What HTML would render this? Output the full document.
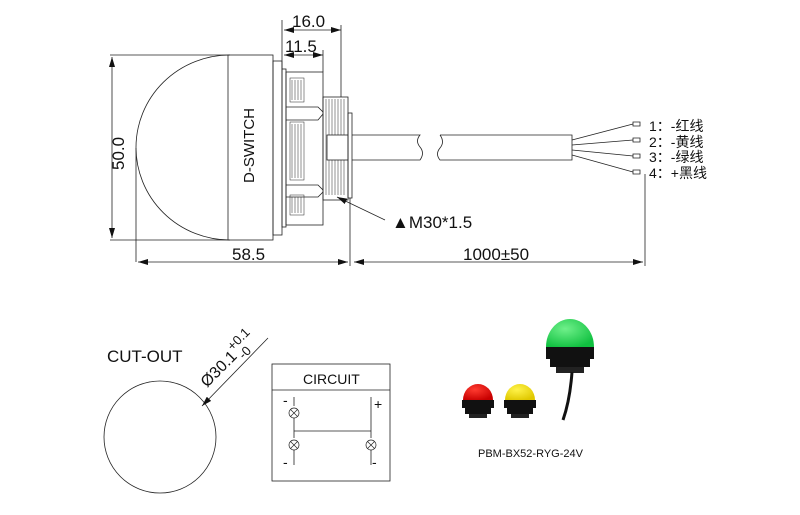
<!DOCTYPE html>
<html><head><meta charset="utf-8"><style>
html,body{margin:0;padding:0;background:#fff;}
svg{display:block;}
text{font-family:"Liberation Sans","Noto Sans CJK SC",sans-serif;fill:#111;}
</style></head><body>
<svg width="800" height="515" viewBox="0 0 800 515" xmlns="http://www.w3.org/2000/svg">
<defs>
<marker id="a" viewBox="0 0 10 6" refX="10" refY="3" markerWidth="10" markerHeight="6" orient="auto-start-reverse" markerUnits="userSpaceOnUse"><path d="M0,0L10,3L0,6z" fill="#111"/></marker>
<radialGradient id="gr" cx="0.4" cy="0.35" r="0.7"><stop offset="0" stop-color="#ff3b30"/><stop offset="1" stop-color="#c80000"/></radialGradient>
<radialGradient id="gy" cx="0.4" cy="0.35" r="0.7"><stop offset="0" stop-color="#fff34a"/><stop offset="1" stop-color="#e0c800"/></radialGradient>
<radialGradient id="gg" cx="0.4" cy="0.35" r="0.7"><stop offset="0" stop-color="#6ff08a"/><stop offset="1" stop-color="#10c040"/></radialGradient>
</defs>
<g stroke="#222" stroke-width="0.8" fill="none">
<line x1="110" y1="55" x2="230" y2="55"/>
<line x1="110" y1="240" x2="230" y2="240"/>
<line x1="112" y1="57" x2="112" y2="238" marker-start="url(#a)" marker-end="url(#a)"/>
<path d="M230,55 A94,92.5 0 0 0 230,240"/>
<line x1="136" y1="148" x2="136" y2="262"/>
<rect x="228" y="55" width="45" height="185"/>
<rect x="273" y="61" width="9" height="174"/>
<rect x="282" y="69" width="4" height="158"/>
<rect x="286" y="72" width="37" height="153"/>
<path d="M286,107 H318 L323,112 M286,120 H318 L323,114 M286,185 H318 L323,190 M286,197 H318 L323,192"/>
<g stroke-width="0.5">
<rect x="290" y="78" width="14" height="24"/><rect x="290" y="122" width="14" height="58"/><rect x="290" y="195" width="14" height="20"/>
<path d="M292,80v20M295,80v20M298,80v20M301,80v20M292,124v54M295,124v54M298,124v54M301,124v54M292,197v16M295,197v16M298,197v16M301,197v16"/>
<path d="M326,99v96M329,99v96M332,99v96M335,99v96M338,99v96M341,99v96M344,99v96"/>
</g>
<rect x="323" y="97" width="25" height="103"/>
<rect x="327" y="135" width="21" height="25" fill="#fff"/>
<rect x="348" y="113" width="4" height="85"/>
<path d="M352,135 H420 q-5,6 0,12 q5,6 0,13 H352"/>
<path d="M440,135 H572 V160 H440 q-5,-6 0,-12 q5,-6 0,-13"/>
<path d="M572,140 L633,124 M572,145 L633,140 M572,150 L633,156 M572,155 L633,172"/>
<path d="M633,122h7v4h-7zM633,138h7v4h-7zM633,154h7v4h-7zM633,170h7v4h-7z"/>
<line x1="282" y1="20" x2="282" y2="69"/>
<line x1="341" y1="25" x2="341" y2="97"/>
<line x1="323" y1="50" x2="323" y2="72"/>
<line x1="284" y1="30" x2="341" y2="30" marker-start="url(#a)" marker-end="url(#a)"/>
<line x1="284" y1="55" x2="323" y2="55" marker-start="url(#a)" marker-end="url(#a)"/>
<line x1="350" y1="198" x2="350" y2="266"/>
<line x1="645" y1="174" x2="645" y2="266"/>
<line x1="138" y1="262" x2="348" y2="262" marker-start="url(#a)" marker-end="url(#a)"/>
<line x1="354" y1="262" x2="643" y2="262" marker-start="url(#a)" marker-end="url(#a)"/>
<line x1="385" y1="220" x2="337" y2="197" marker-end="url(#a)"/>
<circle cx="160" cy="437" r="56"/>
<line x1="268" y1="338" x2="202" y2="406" marker-end="url(#a)"/>
<rect x="272" y="364" width="118" height="117"/>
<line x1="272" y1="390" x2="390" y2="390"/>
<line x1="294" y1="397" x2="294" y2="406"/><line x1="294" y1="418" x2="294" y2="438"/><line x1="294" y1="450" x2="294" y2="465"/>
<line x1="371" y1="397" x2="371" y2="438"/><line x1="371" y1="450" x2="371" y2="465"/>
<line x1="294" y1="431" x2="371" y2="431"/>
<g stroke-width="0.7"><circle cx="294" cy="413" r="5"/><path d="M290.5,409.5l7,7m0,-7l-7,7"/>
<circle cx="294" cy="445" r="5"/><path d="M290.5,441.5l7,7m0,-7l-7,7"/>
<circle cx="371" cy="445" r="5"/><path d="M367.5,441.5l7,7m0,-7l-7,7"/></g>
</g>
<text x="0" y="0" font-size="15" transform="translate(254,183) rotate(-90)">D-SWITCH</text>
<text x="0" y="0" font-size="17" transform="translate(124,170) rotate(-90)">50.0</text>
<text x="292" y="27" font-size="17">16.0</text>
<text x="285" y="52" font-size="17">11.5</text>
<text x="232" y="260" font-size="17">58.5</text>
<text x="463" y="260" font-size="17">1000±50</text>
<text x="392" y="228" font-size="17">▲M30*1.5</text>
<g font-size="14"><text x="649" y="131">1：-红线</text><text x="649" y="147">2：-黄线</text><text x="649" y="162">3：-绿线</text><text x="649" y="178">4：+黑线</text></g>
<text x="107" y="362" font-size="17">CUT-OUT</text>
<g transform="translate(207,388) rotate(-45)"><text x="0" y="0" font-size="16">Ø30.1</text><text x="44" y="-8" font-size="13">+0.1</text><text x="46" y="6" font-size="13">-0</text></g>
<text x="303" y="384" font-size="14">CIRCUIT</text>
<g font-size="14"><text x="283" y="405">-</text><text x="374" y="409">+</text><text x="283" y="467">-</text><text x="372" y="467">-</text></g>
<path d="M463,400 a15,16 0 0 1 30,0 z" fill="url(#gr)"/>
<path d="M462,400h32v8h-3v6h-26v-6h-3z" fill="#111"/><rect x="469" y="414" width="18" height="4" fill="#222"/>
<path d="M505,400 a15,16 0 0 1 30,0 z" fill="url(#gy)"/>
<path d="M504,400h32v8h-3v6h-26v-6h-3z" fill="#111"/><rect x="511" y="414" width="18" height="4" fill="#222"/>
<path d="M546,347 a24,28 0 0 1 48,0 z" fill="url(#gg)"/>
<path d="M546,347h48v12h-4v8h-40v-8h-4z" fill="#111"/><rect x="556" y="367" width="28" height="6" fill="#222"/>
<path d="M572,372 Q570,400 563,420" stroke="#111" stroke-width="3" fill="none"/>
<text x="478" y="457" font-size="11">PBM-BX52-RYG-24V</text>
</svg>
</body></html>
